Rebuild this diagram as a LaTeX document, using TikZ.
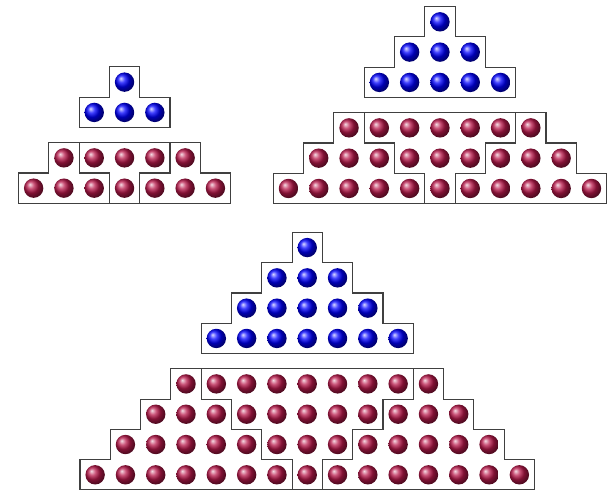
\documentclass[tikz,border=0pt]{standalone}
\definecolor{beadred}{RGB}{185,25,75}
\tikzset{
  outline/.style={draw=black!75, line width=1pt},
  blueball/.style={ball color=blue},
  redball/.style={ball color=beadred},
}
% #1 = n, #2 = apex column, #3 = top
\newcommand{\upstairs}[3]{%
  \draw[outline] (#2,#3) \foreach \k in {1,...,#1}{ -- ++(1,0) -- ++(0,-1)}
    -- ++({1-2*#1},0) \foreach \k in {2,...,#1}{ -- ++(0,1) -- ++(1,0)} -- cycle;}
% #1 = n, #2 = left column, #3 = top
\newcommand{\downstairs}[3]{%
  \draw[outline] (#2,#3) -- ++({2*#1-1},0) \foreach \k in {2,...,#1}{ -- ++(0,-1) -- ++(-1,0)}
    -- ++(0,-1) -- ++(-1,0) \foreach \k in {2,...,#1}{ -- ++(0,1) -- ++(-1,0)} -- cycle;}
% #1 = n, (#2,#3) = top left corner
\newcommand{\beadpyramid}[3]{%
  \begin{scope}[shift={(#2,#3)}]
    \upstairs{#1}{2*#1-1}{0}
    \upstairs{#1}{#1-1}{-#1-.5}
    \downstairs{#1}{#1}{-#1-.5}
    \upstairs{#1}{3*#1-1}{-#1-.5}
    \foreach \r [evaluate=\r as \w using int(2*\r-1)] in {1,...,#1}
      \foreach \k in {1,...,\w}
        \shade[blueball] ({2*#1-\r+\k-.5},{.5-\r}) circle (.32);
    \foreach \r [evaluate=\r as \w using int(2*#1+2*\r-1)] in {1,...,#1}
      \foreach \k in {1,...,\w}
        \shade[redball] ({#1-\r+\k-.5},{-#1-\r}) circle (.32);
  \end{scope}}
\begin{document}
\begin{tikzpicture}
  \useasboundingbox (0,0) rectangle (20.033,-16.238);
  \beadpyramid{2}{.61}{-2.21}
  \beadpyramid{3}{9.02}{-.22}
  \beadpyramid{4}{2.64}{-7.67}
\end{tikzpicture}
\end{document}
